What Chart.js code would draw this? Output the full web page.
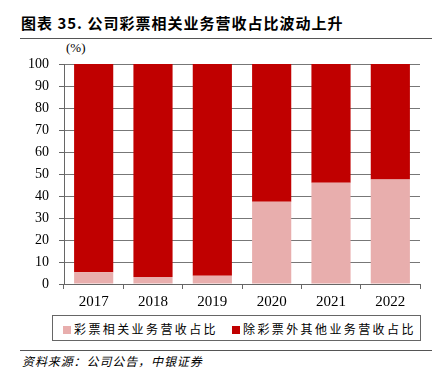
<!DOCTYPE html>
<html><head><meta charset="utf-8">
<script src="https://cdn.jsdelivr.net/npm/chart.js@4/dist/chart.umd.min.js"></script>
<style>
html,body{margin:0;padding:0;background:#fff;width:432px;height:370px;overflow:hidden;position:relative;font-family:"Noto Sans CJK SC",sans-serif;}
#title{position:absolute;left:21px;top:12px;font-size:15px;font-weight:bold;letter-spacing:1px;color:#000;white-space:nowrap;}
#line1{position:absolute;left:20px;top:38px;width:412px;height:0;border-top:1.5px solid #555;}
#unit{position:absolute;left:66px;top:40px;font-family:"Liberation Serif",serif;font-size:13px;color:#000;}
#wrap{position:absolute;left:0;top:40px;width:432px;height:270px;}
#legend{position:absolute;left:52px;top:315px;width:367px;height:24px;border:1px solid #666;font-size:12px;letter-spacing:2.4px;color:#000;white-space:nowrap;}
#legend span.i{position:absolute;top:4px;}
#legend i{display:inline-block;width:8px;height:8px;margin-right:3px;vertical-align:0px;}
#line2{position:absolute;left:20px;top:350px;width:412px;height:0;border-top:1.5px solid #555;}
#src{position:absolute;left:22px;top:352px;font-size:12px;font-style:italic;letter-spacing:0.9px;color:#000;white-space:nowrap;}
</style></head>
<body>
<div id="title">图表 35. 公司彩票相关业务营收占比波动上升</div>
<div id="line1"></div>
<div id="unit">(%)</div>
<div id="wrap"><canvas id="c" width="432" height="270"></canvas></div>
<div id="legend"><span class="i" style="left:10px"><i style="background:#E8AEAD"></i>彩票相关业务营收占比</span><span class="i" style="left:179px"><i style="background:#C00000"></i>除彩票外其他业务营收占比</span></div>
<div id="line2"></div>
<div id="src">资料来源：公司公告，中银证券</div>
<script>
const years = ["2017","2018","2019","2020","2021","2022"];
const lotteryShare = [5.3, 3.2, 3.8, 37.4, 46.0, 47.5];
const otherShare = [94.7, 96.8, 96.2, 62.6, 54.0, 52.5];
const seriesNames = ["彩票相关业务营收占比", "除彩票外其他业务营收占比"];
const yTicks = [0,10,20,30,40,50,60,70,80,90,100];

new Chart(document.getElementById('c'), {
  type: 'bar',
  data: {
    labels: years,
    datasets: [
      {label: seriesNames[0], data: lotteryShare, backgroundColor: '#E8AEAD', barPercentage: 0.66, categoryPercentage: 1},
      {label: seriesNames[1], data: otherShare, backgroundColor: '#C00000', barPercentage: 0.66, categoryPercentage: 1}
    ]
  },
  options: {
    responsive: false,
    animation: false,
    layout: {padding: {top: 24, right: 12, left: 0, bottom: 0}},
    plugins: {legend: {display: false}, tooltip: {enabled: false}},
    scales: {
      x: {
        stacked: true,
        afterFit: s => { s.height = 26; },
        grid: {offset: true, drawOnChartArea: false, drawTicks: true, tickLength: 5, color: '#666'},
        border: {color: '#666', width: 1},
        ticks: {color: '#000', font: {family: 'Liberation Serif', size: 15}, padding: 4}
      },
      y: {
        stacked: true,
        min: 0, max: 100,
        afterFit: s => { s.width = 64; },
        afterBuildTicks: s => { s.ticks = yTicks.map(v => ({value: v})); },
        grid: {color: '#777', borderDash: [2, 2], tickBorderDash: [], tickColor: '#666', tickLength: 5, lineWidth: 1},
        border: {color: '#666', width: 1},
        ticks: {color: '#000', font: {family: 'Liberation Serif', size: 14}, padding: 10}
      }
    }
  }
});
</script>
</body></html>
